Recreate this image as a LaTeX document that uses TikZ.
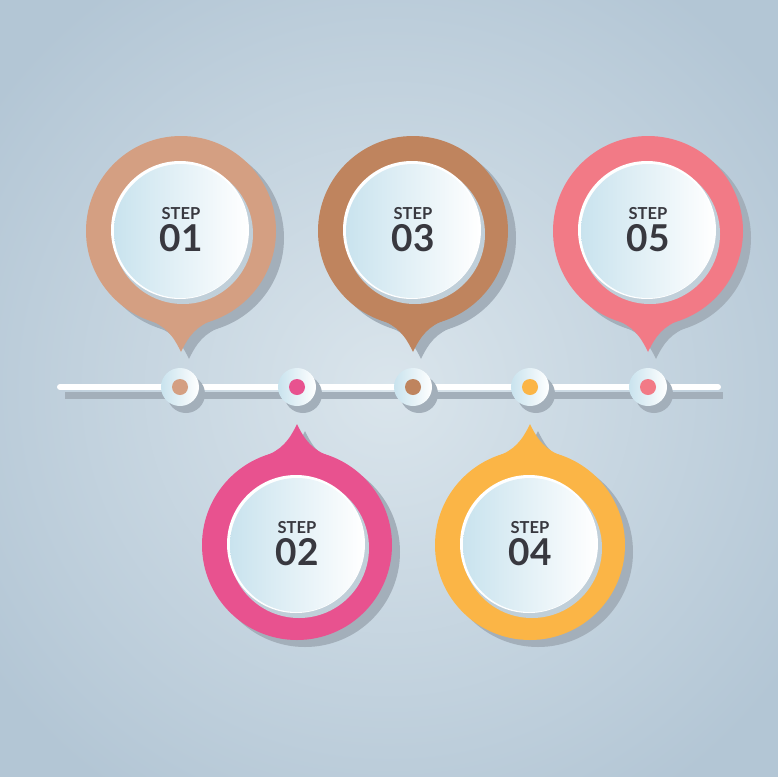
\documentclass[tikz,border=0pt]{standalone}
\usepackage{fontspec}
\newfontfamily\lato{Lato}
\definecolor{bgin}{HTML}{DAE5EC}
\definecolor{bgout}{HTML}{B3C6D5}
\definecolor{shadowc}{HTML}{A3AFBA}
\definecolor{rimc}{HTML}{C0CFD9}
\definecolor{innerL}{HTML}{C9E3EE}
\definecolor{txtc}{HTML}{38383F}
\definecolor{cA}{HTML}{D49F82}
\definecolor{cB}{HTML}{E8528F}
\definecolor{cC}{HTML}{BF845E}
\definecolor{cD}{HTML}{FBB546}
\definecolor{cE}{HTML}{F27A86}
\tikzset{
  steplabel/.style={font=\lato\bfseries\fontsize{16.5}{16.5}\selectfont, text=txtc, inner sep=0pt},
  numlabel/.style={font=\lato\bfseries\fontsize{37}{37}\selectfont, text=txtc, inner sep=0pt},
}
\newcommand\pointerpath{(-32,89) .. controls (-16,95) and (-8,104) .. (0,121) .. controls (8,104) and (16,95) .. (32,89) -- cycle}
% #1 name, #2 x, #3 y, #4 dir (1 down, -1 up), #5 color, #6 number
\newcommand\drawpin[6]{%
  \begin{scope}[shift={(#2+8,#3+7)}]
    \fill[shadowc] (0,0) circle (95);
    \fill[shadowc,yscale=#4] \pointerpath;
  \end{scope}
  \begin{scope}[shift={(#2,#3)}]
    \fill[#5] (0,0) circle (95);
    \fill[#5,yscale=#4] \pointerpath;
    \fill[rimc] (2,3) circle (70);
    \fill[white] (-1,-1) circle (69);
    \shade[left color=innerL, right color=white] (0,0) circle (67);
  \end{scope}
  \node[steplabel] (#1s) at (#2,#3-17) {STEP};
  \node[numlabel] (#1n) at (#2,#3+7) {#6};
}
% #1 name, #2 x, #3 color
\newcommand\drawdot[3]{%
  \fill[shadowc] (#2+6,394) circle (19);
  \shade[left color=innerL, right color=white] (#2,387) circle (19);
  \node[circle, fill=#3, minimum size=16pt, inner sep=0pt] (#1) at (#2,387) {};
}
\begin{document}
\begin{tikzpicture}[x=1pt,y=-1pt]
  \useasboundingbox (0,0) rectangle (777,777);
  \shade[inner color=bgin, outer color=bgout] (-100,-100) rectangle (877,877);
  % timeline
  \coordinate (ls) at (60,387);
  \coordinate (le) at (718,387);
  \draw[shadowc, line width=7pt] ([shift={(5,8)}]ls) -- ([shift={(5,8)}]le);
  \draw[white, line width=6pt, line cap=round] (ls) -- (le);
  \drawdot{d1}{180}{cA}
  \drawdot{d2}{297}{cB}
  \drawdot{d3}{413}{cC}
  \drawdot{d4}{530}{cD}
  \drawdot{d5}{648}{cE}
  % pins
  \drawpin{p1}{181}{231}{1}{cA}{01}
  \drawpin{p3}{413}{231}{1}{cC}{03}
  \drawpin{p5}{648}{231}{1}{cE}{05}
  \drawpin{p2}{297}{545}{-1}{cB}{02}
  \drawpin{p4}{530}{545}{-1}{cD}{04}
\end{tikzpicture}
\end{document}
